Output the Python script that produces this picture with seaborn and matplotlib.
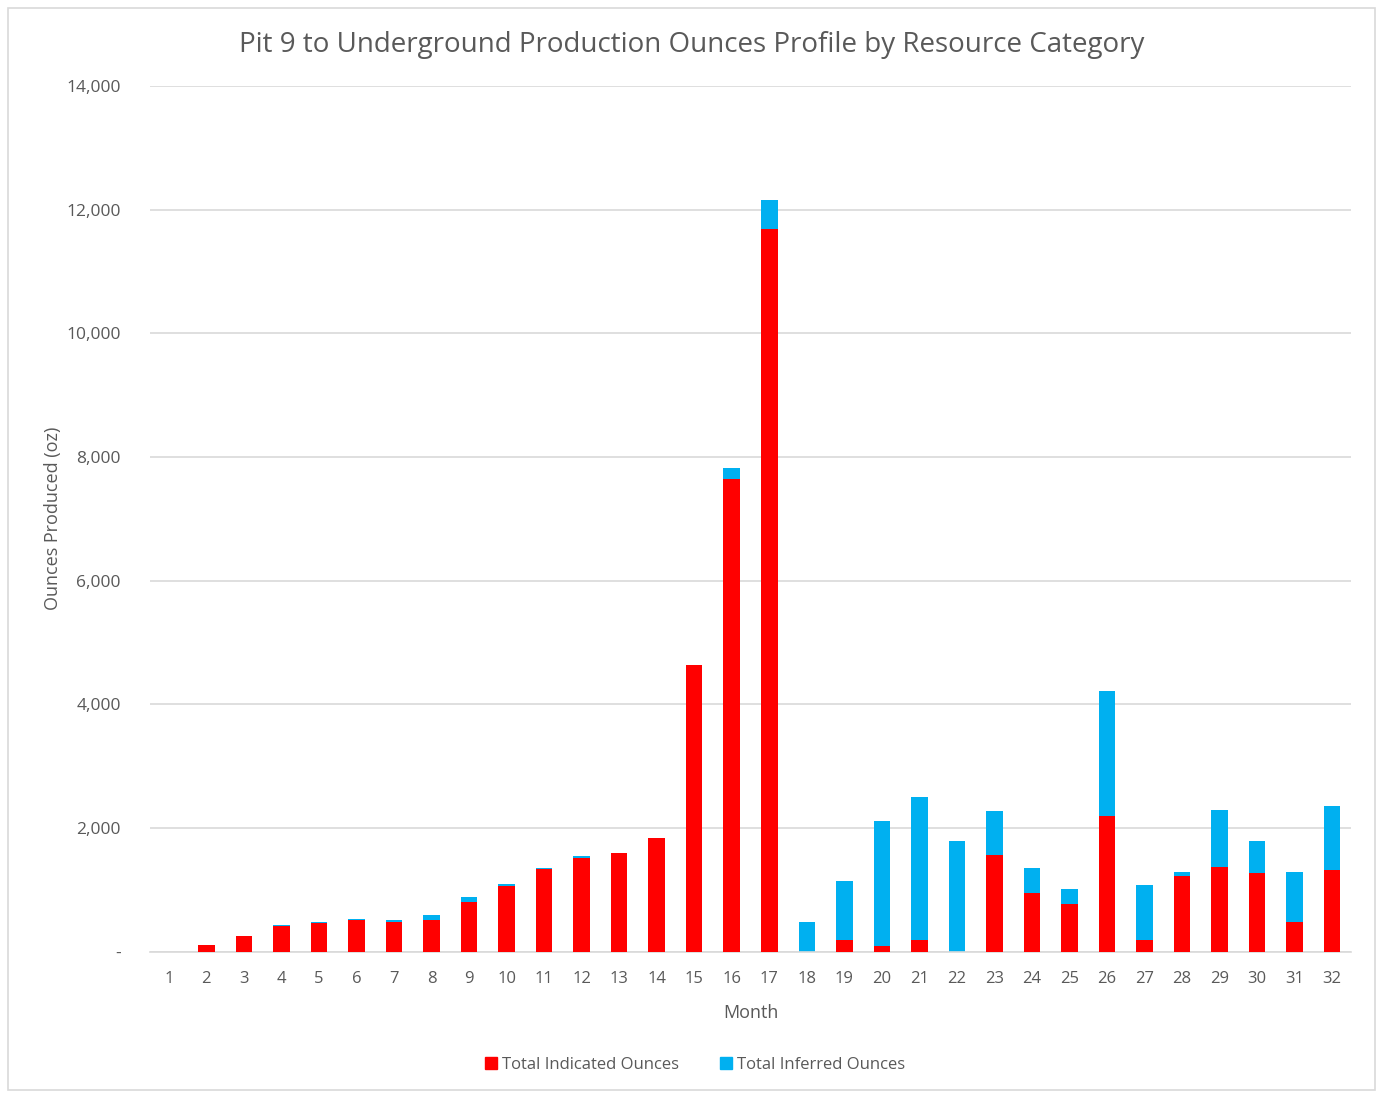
import pandas as pd
import matplotlib
matplotlib.use("Agg")
import matplotlib.pyplot as plt
import seaborn as sns
from matplotlib.patches import Rectangle
from matplotlib.ticker import FuncFormatter

# values
months = list(range(1, 33))
indicated = [0, 110, 245, 408, 456, 505, 478, 505, 799, 1065, 1332, 1516, 1592, 1831,
             4642, 7646, 11690, 0, 189, 87, 189, 0, 1558, 952, 768, 2191, 189, 1217,
             1374, 1271, 476, 1325]
inferred = [0, 0, 0, 22, 22, 28, 33, 82, 76, 22, 21, 22, 0, 0,
            0, 178, 465, 476, 953, 2023, 2316, 1791, 709, 395, 238, 2029, 893, 76,
            920, 520, 817, 1023]
y_ticks = [0, 2000, 4000, 6000, 8000, 10000, 12000, 14000]

RED = "#FF0000"
BLUE = "#00B0F0"
GREY = "#595959"

df = pd.DataFrame({"Month": [str(m) for m in months],
                   "Indicated": indicated,
                   "Inferred": inferred})
df["Total"] = df["Indicated"] + df["Inferred"]

sns.set_style("white")
plt.rcParams["font.family"] = ["Open Sans", "DejaVu Sans"]

fig = plt.figure(figsize=(13.83, 10.93), dpi=100)
ax = fig.add_axes([150 / 1383, 1 - 951.5 / 1093, 1201 / 1383, 865.5 / 1093])

# stacked bars: total first (blue), indicated on top of it (red)
sns.barplot(data=df, x="Month", y="Total", color=BLUE, width=0.44,
            saturation=1, linewidth=0, ax=ax, zorder=2)
sns.barplot(data=df, x="Month", y="Indicated", color=RED, width=0.44,
            saturation=1, linewidth=0, ax=ax, zorder=3)

ax.set_xlim(-0.5, len(months) - 0.5)
ax.set_ylim(0, 14000)
ax.set_yticks(y_ticks)
ax.yaxis.set_major_formatter(FuncFormatter(lambda v, p: "-" if v == 0 else f"{int(v):,}"))
ax.grid(axis="y", color="#D9D9D9", linewidth=1.2, zorder=0)
ax.set_axisbelow(True)
for s in ["top", "right", "left"]:
    ax.spines[s].set_visible(False)
ax.spines["bottom"].set_color("#D9D9D9")
ax.spines["bottom"].set_linewidth(1.2)
ax.tick_params(axis="y", length=0, colors=GREY, labelsize=12.5, pad=21)
ax.tick_params(axis="x", length=0, colors=GREY, labelsize=12, pad=14)

ax.set_xlabel("Month", fontsize=13, color=GREY, labelpad=12)
ax.set_ylabel("Ounces Produced (oz)", fontsize=13, color=GREY, labelpad=3)
fig.suptitle("Pit 9 to Underground Production Ounces Profile by Resource Category",
             x=0.5, y=0.972, fontsize=20, color=GREY)

handles = [Rectangle((0, 0), 1, 1, color=RED), Rectangle((0, 0), 1, 1, color=BLUE)]
fig.legend(handles, ["Total Indicated Ounces", "Total Inferred Ounces"],
           loc="center", bbox_to_anchor=(695 / 1383, 1 - 1065 / 1093), ncol=2,
           frameon=False, fontsize=12, labelcolor=GREY, handlelength=0.7,
           handleheight=0.7, handletextpad=0.3, columnspacing=2.5)

# light outer border of the chart area
fig.patches.append(Rectangle((8 / 1383, 3 / 1093), 1367 / 1383, 1082 / 1093,
                             transform=fig.transFigure, fill=False,
                             edgecolor="#D9D9D9", linewidth=1.2))

fig.savefig("out.png", dpi=100)
